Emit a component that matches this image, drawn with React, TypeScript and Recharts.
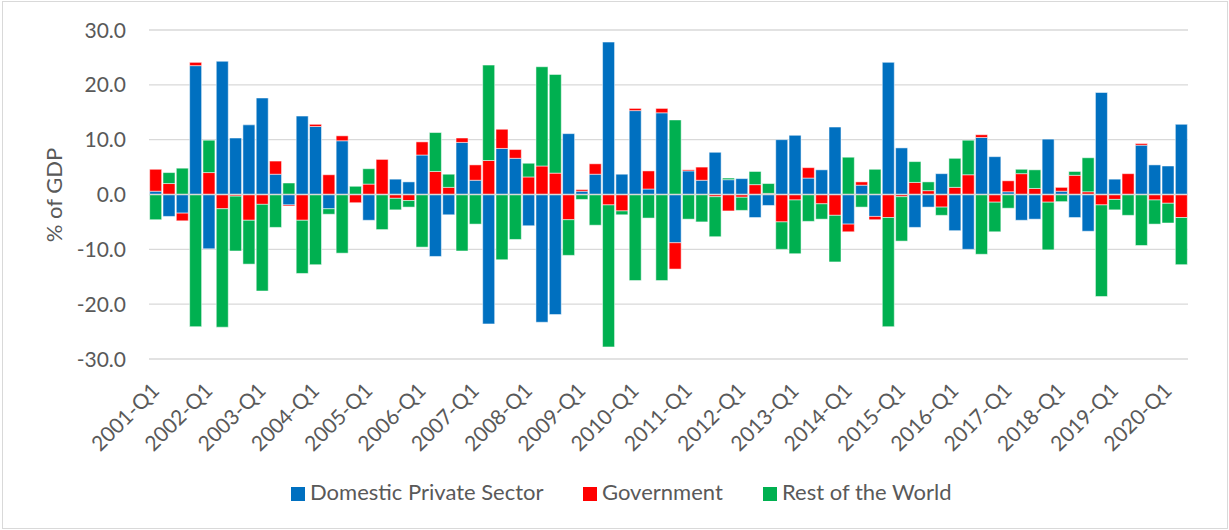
import React from 'react';
import { BarChart, Bar, XAxis, YAxis, CartesianGrid, ReferenceLine, Label } from 'recharts';

const quarters = [
  '2001-Q1','2001-Q2','2001-Q3','2001-Q4','2002-Q1','2002-Q2','2002-Q3','2002-Q4',
  '2003-Q1','2003-Q2','2003-Q3','2003-Q4','2004-Q1','2004-Q2','2004-Q3','2004-Q4',
  '2005-Q1','2005-Q2','2005-Q3','2005-Q4','2006-Q1','2006-Q2','2006-Q3','2006-Q4',
  '2007-Q1','2007-Q2','2007-Q3','2007-Q4','2008-Q1','2008-Q2','2008-Q3','2008-Q4',
  '2009-Q1','2009-Q2','2009-Q3','2009-Q4','2010-Q1','2010-Q2','2010-Q3','2010-Q4',
  '2011-Q1','2011-Q2','2011-Q3','2011-Q4','2012-Q1','2012-Q2','2012-Q3','2012-Q4',
  '2013-Q1','2013-Q2','2013-Q3','2013-Q4','2014-Q1','2014-Q2','2014-Q3','2014-Q4',
  '2015-Q1','2015-Q2','2015-Q3','2015-Q4','2016-Q1','2016-Q2','2016-Q3','2016-Q4',
  '2017-Q1','2017-Q2','2017-Q3','2017-Q4','2018-Q1','2018-Q2','2018-Q3','2018-Q4',
  '2019-Q1','2019-Q2','2019-Q3','2019-Q4','2020-Q1','2020-Q2',
];

const domesticPrivate = [
  0.6, -4.0, -3.4, 23.5, -9.9, 24.3, 10.3, 12.7,
  17.6, 3.7, -1.9, 14.3, 12.4, -2.6, 9.8, 0.0,
  -4.7, 0.0, 2.8, 2.3, 7.2, -11.3, -3.7, 9.5,
  2.6, -23.6, 8.4, 6.6, -5.7, -23.3, -21.9, 11.1,
  0.6, 3.7, 27.8, 3.7, 15.3, 1.0, 14.9, -8.8,
  4.3, 2.6, 7.7, 2.7, 2.9, -4.2, -2.0, 10.0,
  10.8, 3.0, 4.5, 12.3, -5.4, 1.7, -4.0, 24.1,
  8.5, -6.0, -2.3, 3.8, -6.6, -10.0, 10.4, 6.9,
  0.5, -4.7, -4.5, 10.1, 0.6, -4.2, -6.7, 18.6,
  2.8, 0.0, 9.0, 5.4, 5.2, 12.8,
];

const government = [
  4.0, 2.0, -1.4, 0.6, 4.0, -2.6, -0.3, -4.7,
  -1.8, 2.4, -0.2, -4.7, 0.4, 3.6, 0.9, -1.5,
  1.9, 6.4, -0.7, -1.1, 2.4, 4.2, 1.3, 0.8,
  2.8, 6.2, 3.5, 1.6, 3.2, 5.2, 3.9, -4.6,
  0.3, 1.9, -1.9, -3.0, 0.4, 3.3, 0.8, -4.8,
  0.2, 2.4, -0.4, -3.0, -0.5, 1.8, 0.2, -5.0,
  -1.0, 1.9, -1.7, -3.8, -1.4, 0.6, -0.6, -4.2,
  -0.4, 2.2, 0.7, -2.3, 1.3, 3.6, 0.5, -1.4,
  2.0, 3.8, 1.1, -1.4, 0.7, 3.5, 0.5, -1.9,
  -0.9, 3.8, 0.3, -1.0, -1.6, -4.2,
];

const restOfWorld = [
  -4.6, 2.0, 4.8, -24.1, 5.9, -21.6, -10.0, -8.0,
  -15.8, -6.0, 2.1, -9.7, -12.8, -1.0, -10.7, 1.5,
  2.8, -6.4, -2.1, -1.2, -9.6, 7.1, 2.4, -10.3,
  -5.4, 17.4, -11.9, -8.2, 2.5, 18.1, 18.0, -6.5,
  -0.9, -5.6, -25.9, -0.7, -15.7, -4.3, -15.7, 13.6,
  -4.5, -5.0, -7.3, 0.3, -2.4, 2.4, 1.8, -5.0,
  -9.8, -4.9, -2.8, -8.5, 6.8, -2.3, 4.6, -19.9,
  -8.1, 3.8, 1.6, -1.5, 5.3, 6.3, -10.9, -5.4,
  -2.5, 0.8, 3.4, -8.7, -1.3, 0.7, 6.2, -16.7,
  -1.9, -3.8, -9.3, -4.4, -3.6, -8.6,
];

const yTicks = [-30, -20, -10, 0, 10, 20, 30];

const seriesNames = ['Domestic Private Sector', 'Government', 'Rest of the World'];
const seriesColors = ['#0070C0', '#FF0000', '#00B050'];

const data = quarters.map((q, i) => ({
  q,
  dps: domesticPrivate[i],
  gov: government[i],
  row: restOfWorld[i],
}));

const FONT = 'Lato, "Open Sans", sans-serif';
const TEXT = '#595959';

const XTick = (props: any) => {
  const { x, y, payload } = props;
  const ax = x + 5;
  const ay = y + 33;
  return (
    <text
      x={ax}
      y={ay}
      transform={`rotate(-45 ${ax} ${ay})`}
      textAnchor="end"
      fill={TEXT}
      fontSize={21}
      fontFamily={FONT}
    >
      {payload.value}
    </text>
  );
};

const YTick = (props: any) => {
  const { x, y, payload } = props;
  return (
    <text
      x={x - 23}
      y={y}
      dy="0.36em"
      textAnchor="end"
      fill={TEXT}
      fontSize={21}
      fontFamily={FONT}
    >
      {Number(payload.value).toFixed(1)}
    </text>
  );
};

const legendX = [291, 583, 763];

export default function App() {
  return (
    <div style={{ position: 'absolute', left: 0, top: 0, width: 1229, height: 530, background: '#fff' }}>
      <div
        style={{
          position: 'absolute',
          left: 2,
          top: 1,
          width: 1224,
          height: 526,
          border: '1px solid #d9d9d9',
        }}
      />
      <div style={{ position: 'absolute', left: 0, top: 0 }}>
        <BarChart
          width={1229}
          height={530}
          data={data}
          stackOffset="sign"
          margin={{ top: 30, right: 41, bottom: 0, left: 0 }}
          barCategoryGap="5%"
        >
          <CartesianGrid vertical={false} stroke="#d9d9d9" strokeWidth={1.3} />
          <XAxis
            dataKey="q"
            interval={3}
            axisLine={false}
            tickLine={false}
            tickSize={0}
            tickMargin={0}
            height={171}
            tick={<XTick />}
          />
          <YAxis
            domain={[-30, 30]}
            ticks={yTicks}
            axisLine={false}
            tickLine={false}
            tickSize={0}
            tickMargin={0}
            width={149}
            tick={<YTick />}
          >
            <Label
              content={() => (
                <text
                  x={53}
                  y={195}
                  transform="rotate(-90 53 195)"
                  textAnchor="middle"
                  dominantBaseline="central"
                  fill={TEXT}
                  fontSize={22}
                  fontFamily={FONT}
                >
                  % of GDP
                </text>
              )}
            />
          </YAxis>
          <Bar dataKey="dps" stackId="s" fill={seriesColors[0]} stroke="rgba(255,255,255,0.5)" strokeWidth={1} isAnimationActive={false} />
          <Bar dataKey="gov" stackId="s" fill={seriesColors[1]} stroke="rgba(255,255,255,0.5)" strokeWidth={1} isAnimationActive={false} />
          <Bar dataKey="row" stackId="s" fill={seriesColors[2]} stroke="rgba(255,255,255,0.5)" strokeWidth={1} isAnimationActive={false} />
          <ReferenceLine y={0} stroke="#d9d9d9" strokeWidth={1.5} />
        </BarChart>
      </div>
      <svg
        width={1229}
        height={60}
        style={{ position: 'absolute', left: 0, top: 470 }}
      >
        {seriesNames.map((name, i) => (
          <g key={name}>
            <rect x={legendX[i]} y={17} width={14} height={14} fill={seriesColors[i]} />
            <text x={legendX[i] + 19} y={30} fill={TEXT} fontSize={22} fontFamily={FONT}>
              {name}
            </text>
          </g>
        ))}
      </svg>
    </div>
  );
}
